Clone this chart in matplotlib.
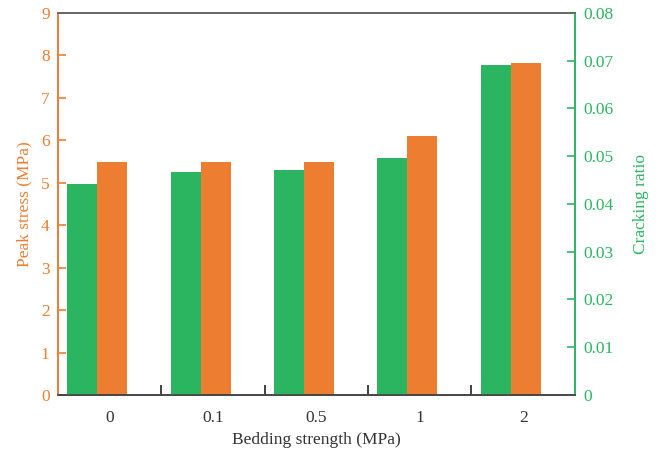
import matplotlib; matplotlib.use("Agg")
import matplotlib.pyplot as plt
import numpy as np

categories = ["0", "0.1", "0.5", "1", "2"]
peak_stress = [5.5, 5.5, 5.5, 6.1, 7.82]            # MPa, left axis
cracking_ratio = [0.0442, 0.0467, 0.0471, 0.0496, 0.0691]  # right axis

orange = "#ED7D31"
green = "#2BB560"
plt.rcParams["font.family"] = ["Liberation Serif", "DejaVu Serif"]
fs = 12.5

fig = plt.figure(figsize=(6.63, 4.57), dpi=100)
ax = fig.add_axes([0.0875, 0.1357, 0.7795, 0.8359])
ax2 = ax.twinx()

x = np.arange(len(categories))
w = 0.29
ax2.bar(x - 0.41, cracking_ratio, w, align="edge", color=green, zorder=2)
ax.bar(x - 0.12, peak_stress, w, align="edge", color=orange, zorder=2)

ax.set_xlim(-0.5, len(categories) - 0.5)
ax.set_ylim(0, 9)
ax2.set_ylim(0, 0.08)
ax.set_yticks(range(10))
ax2.set_yticks(np.arange(0, 0.081, 0.01))
ax2.set_yticklabels(["0"] + [f"{v:.2f}" for v in np.arange(0.01, 0.081, 0.01)])

ax.set_xticks(x)
ax.set_xticklabels(categories)
ax.set_xticks(x[:-1] + 0.5, minor=True)
ax.tick_params(axis="x", which="major", length=0, labelsize=fs, colors="#333333", pad=11)
ax.tick_params(axis="x", which="minor", direction="in", length=7, width=1.3, color="#333333")

ax.tick_params(axis="y", direction="in", length=6, width=1.2, color=orange, labelcolor=orange,
               labelsize=fs, pad=6)
ax2.tick_params(axis="y", direction="in", length=6, width=1.2, color=green, labelcolor=green,
                labelsize=fs, pad=6)

for a in (ax, ax2):
    a.spines["top"].set_color("#666666")
    a.spines["bottom"].set_color("#444444")
    a.spines["left"].set_color(orange)
    a.spines["right"].set_color(green)
    for s in a.spines.values():
        s.set_linewidth(1.2)

ax.set_ylabel("Peak stress (MPa)", color=orange, fontsize=fs, labelpad=6)
ax2.set_ylabel("Cracking ratio", color=green, fontsize=fs, labelpad=14)
ax.set_xlabel("Bedding strength (MPa)", color="#333333", fontsize=fs, labelpad=4)

fig.savefig("out.png", dpi=100)
